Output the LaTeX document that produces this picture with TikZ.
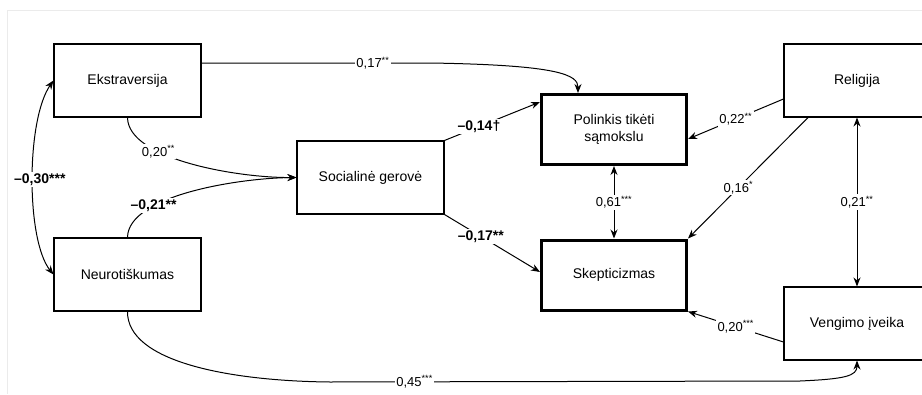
\documentclass[tikz,border=0pt]{standalone}
\usepackage{fontspec}
\setmainfont{Liberation Sans}
\usetikzlibrary{arrows.meta, positioning, calc}

\newcommand{\stars}[1]{\textsuperscript{#1}}

\begin{document}
\begin{tikzpicture}[x=1pt, y=-1pt,
    var/.style={draw, line width=1.1pt, minimum width=147pt, minimum height=73pt,
      inner sep=0pt, align=center, font=\fontsize{14}{17}\selectfont},
    outcome/.style={var, line width=3pt, minimum width=145pt, minimum height=70pt},
    effect/.style={line width=1pt, -{Stealth[length=9pt, width=7pt]}},
    corr/.style={line width=1pt, {Stealth[length=9pt, width=7pt]}-{Stealth[length=9pt, width=7pt]}},
    coef/.style={fill=white, inner sep=1.5pt, font=\fontsize{13}{15}\selectfont},
    bcoef/.style={coef, font=\fontsize{14}{16}\selectfont\bfseries}]
  \useasboundingbox (0,0) rectangle (922,394);
  \clip (0,0) rectangle (922,394);
  % faint frame of the figure
  \draw[black!8, line width=0.8pt] (7,394) -- (7,10) -- (922,10);

  % variables
  \node[var] (ekstr) at (127.5,80.5) {Ekstraversija};
  \node[var] (neuro) at (127.5,274.5) {Neurotiškumas};
  \node[var] (soc) at (370.5,177.5) {Socialinė gerovė};
  \node[outcome] (polin) at (614,129.5) {Polinkis tikėti\\sąmokslu};
  \node[outcome] (skept) at (614,275) {Skepticizmas};
  \node[var, minimum width=146pt] (relig) at (857,80.5) {Religija};
  \node[var, minimum width=146pt] (veng) at (857,323.5) {Vengimo įveika};

  % left side
  \draw[corr] (ekstr.west) .. controls (26,120) and (26,240) .. (neuro.west)
    node[bcoef, pos=0.5, xshift=7pt] {\textendash0,30***};
  \draw[effect] (ekstr.south) .. controls (128,160) and (240,178) .. (soc.west)
    node[coef, pos=0.33] {0,20\stars{**}};
  \draw[effect] (neuro.north) .. controls (128,195) and (240,178) .. (soc.west)
    node[bcoef, pos=0.3] {\textendash0,21**};
  \draw[effect] ([yshift=17.5pt]ekstr.east) -- node[coef, pos=0.75] {0,17\stars{**}} (430,63)
    .. controls (560,65) and (578,75) .. ([xshift=-36pt]polin.north);
  \draw[effect] (neuro.south) .. controls (127,362) and (230,381) .. (330,382)
    -- node[coef, pos=0.18] {0,45\stars{***}} (800,381)
    .. controls (845,379) and (857,376) .. (veng.south);

  % middle
  \draw[effect] (soc.north east) -- node[bcoef, pos=0.36] {\textendash0,14†} ([yshift=27.5pt]polin.west);
  \draw[effect] (soc.south east) -- node[bcoef, pos=0.38] {\textendash0,17**} ([yshift=3pt]skept.west);
  \draw[corr] (polin.south) -- node[coef] {0,61\stars{***}} (skept.north);

  % right side
  \draw[effect] ([yshift=-18.5pt]relig.west) -- node[coef] {0,22\stars{**}} ([yshift=-9.5pt]polin.east);
  \draw[effect] ([xshift=-49pt]relig.south) -- node[coef, pos=0.58] {0,16\stars{*}} (skept.north east);
  \draw[corr] (relig.south) -- node[coef] {0,21\stars{**}} (veng.north);
  \draw[effect] ([yshift=-18.5pt]veng.west) -- node[coef] {0,20\stars{***}} (skept.south east);
\end{tikzpicture}
\end{document}
